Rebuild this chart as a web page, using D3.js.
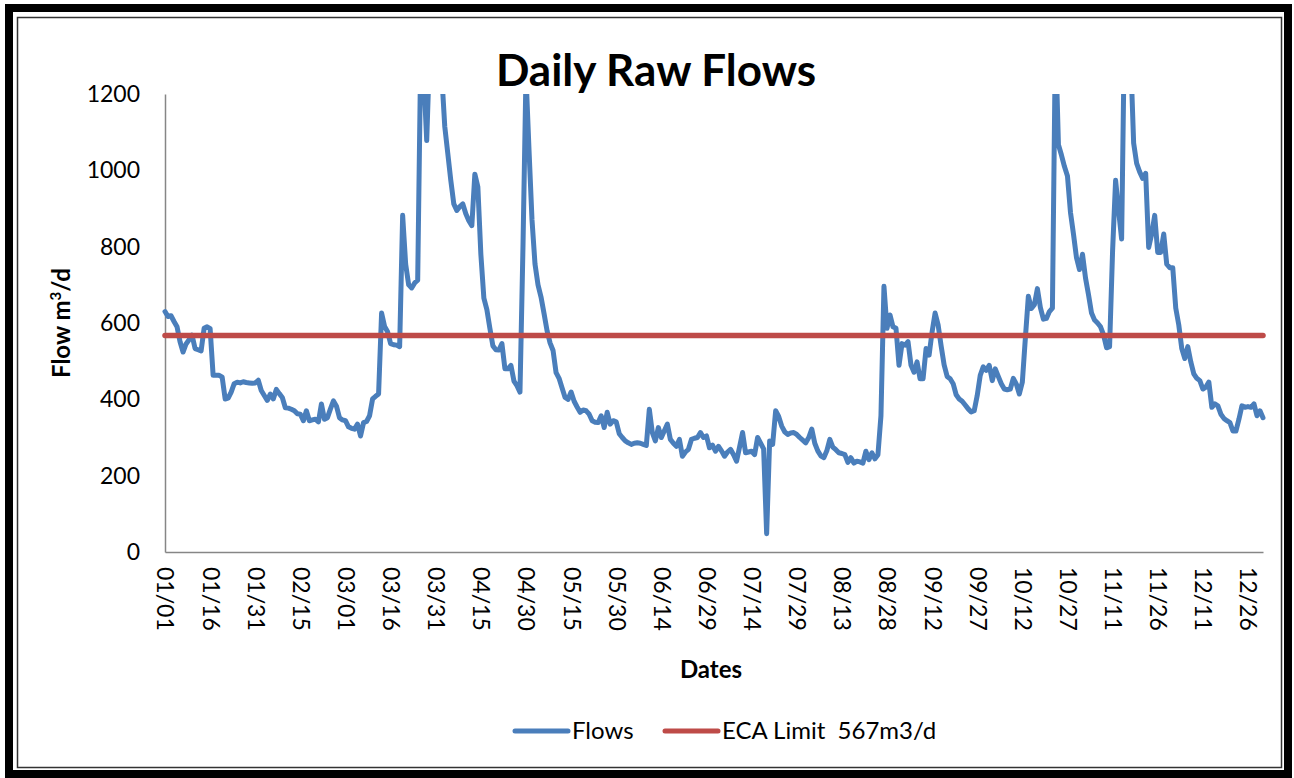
<!DOCTYPE html>
<html>
<head>
<meta charset="utf-8">
<script src="https://cdn.jsdelivr.net/npm/d3@7"></script>
<style>
body { margin: 0; background: #fff; }
svg text { font-family: Lato, "Open Sans", sans-serif; fill: #000; }
</style>
</head>
<body>
<svg id="chart" width="1294" height="778"></svg>
<script>
// daily raw flow, m3/d, one value per day of a leap year
var flows = [
    630, 617, 619, 604, 590, 551, 524, 545, 556, 568,
    533, 530, 527, 586, 590, 585, 463, 463, 463, 458,
    401, 403, 419, 441, 445, 443, 446, 444, 443, 442,
    443, 450, 423, 410, 397, 414, 401, 426, 415, 405,
    378, 377, 374, 370, 362, 361, 344, 370, 344, 346,
    348, 341, 388, 348, 352, 375, 396, 382, 352, 346,
    344, 328, 324, 322, 335, 304, 339, 342, 357, 401,
    408, 414, 626, 591, 577, 546, 543, 542, 538, 882,
    754, 700, 692, 705, 712, 1300, 1250, 1078, 1320, 1450,
    1500, 1400, 1250, 1115, 1045, 974, 912, 895, 905, 912,
    886, 868, 855, 990, 957, 780, 665, 635, 586, 540,
    530, 529, 546, 480, 480, 489, 448, 436, 419, 800,
    1250, 1054, 870, 754, 700, 668, 625, 580, 548, 528,
    470, 455, 430, 405, 400, 419, 395, 380, 366, 372,
    370, 361, 344, 340, 339, 357, 326, 366, 335, 344,
    341, 310, 300, 291, 286, 282, 285, 286, 285, 282,
    279, 374, 313, 291, 326, 300, 318, 335, 295, 285,
    277, 295, 251, 262, 269, 295, 298, 300, 313, 300,
    304, 273, 280, 264, 277, 265, 251, 262, 269, 255,
    238, 275, 313, 260, 262, 264, 255, 300, 285, 270,
    48, 291, 282, 370, 355, 330, 315, 308, 312, 313,
    308, 300, 293, 286, 300, 322, 285, 265, 252, 247,
    265, 295, 275, 268, 260, 258, 255, 235, 247, 233,
    238, 236, 233, 264, 242, 260, 244, 255, 357, 696,
    586, 621, 590, 586, 489, 546, 542, 551, 489, 471,
    498, 454, 454, 533, 516, 577, 626, 595, 540, 490,
    460, 454, 441, 412, 401, 395, 385, 375, 367, 370,
    410, 463, 485, 476, 489, 449, 480, 460, 441, 427,
    425, 427, 455, 440, 414, 445, 560, 670, 638, 648,
    690, 640, 610, 612, 630, 639, 1350, 1067, 1040, 1010,
    985, 890, 833, 771, 740, 780, 718, 674, 626, 608,
    600, 590, 569, 535, 538, 789, 974, 895, 820, 1400,
    1450, 1300, 1071, 1018, 996, 979, 992, 798, 833, 882,
    785, 785, 833, 754, 745, 745, 639, 595, 533, 507,
    538, 498, 467, 455, 449, 427, 432, 445, 379, 388,
    383, 361, 350, 344, 339, 317, 317, 348, 383, 379,
    381, 379, 388, 357, 370, 352
];
var firstDay = "2012-01-01";
var ecaLimit = 567;
var yTicks = [0, 200, 400, 600, 800, 1000, 1200];
var labelEvery = 15; // days between date labels
var seriesNames = ["Flows", "ECA Limit  567m3/d"];
var seriesColors = ["#4a7ebb", "#be4b48"];

var svg = d3.select("#chart");

var left = 165, right = 1263, top_y = 94, bottom_y = 552;

var start = d3.timeParse("%Y-%m-%d")(firstDay);
var dates = flows.map(function(v, i) { return d3.timeDay.offset(start, i); });

var x = d3.scaleTime()
    .domain([dates[0], dates[dates.length - 1]])
    .range([left, right]);

var y = d3.scaleLinear()
    .domain([0, 1200])
    .range([bottom_y, top_y]);

// frame
svg.append("rect")
    .attr("x", 9).attr("y", 8)
    .attr("width", 1279).attr("height", 766)
    .attr("fill", "none").attr("stroke", "#000").attr("stroke-width", 8);
svg.append("rect")
    .attr("x", 17.5).attr("y", 17.5)
    .attr("width", 1264).attr("height", 750)
    .attr("fill", "none").attr("stroke", "#333").attr("stroke-width", 1.5);

// title
svg.append("text")
    .attr("x", 656).attr("y", 86)
    .attr("text-anchor", "middle")
    .style("font-size", "44px").style("font-weight", "bold")
    .text("Daily Raw Flows");

// axes
var xAxis = d3.axisBottom(x)
    .tickValues(d3.range(0, dates.length, labelEvery).map(function(i) { return dates[i]; }))
    .tickFormat(d3.timeFormat("%m/%d"))
    .tickSize(0);

var gx = svg.append("g")
    .attr("transform", "translate(0," + bottom_y + ")")
    .call(xAxis);
gx.select(".domain").attr("stroke", "#868686").attr("stroke-width", 1.5);
gx.selectAll("text")
    .attr("transform", "rotate(90)")
    .attr("text-anchor", "start")
    .attr("x", 15).attr("y", 0).attr("dy", "0.35em")
    .style("font-size", "23px").style("font-family", "Lato");

var yAxis = d3.axisLeft(y).tickValues(yTicks).tickFormat(d3.format("d"))
    .tickSize(0).tickPadding(25);
var gy = svg.append("g")
    .attr("transform", "translate(" + left + ",0)")
    .call(yAxis);
gy.select(".domain").attr("stroke", "#868686").attr("stroke-width", 1.5);
gy.selectAll("text")
    .style("font-size", "23px").style("font-family", "Lato");

// axis titles
svg.append("text")
    .attr("transform", "translate(70,323) rotate(-90)")
    .attr("text-anchor", "middle")
    .style("font-size", "24px").style("font-weight", "bold")
    .html("Flow m<tspan baseline-shift='super' style='font-size:15px'>3</tspan>/d");

svg.append("text")
    .attr("x", (left + right) / 2 - 3).attr("y", 678)
    .attr("text-anchor", "middle")
    .style("font-size", "24px").style("font-weight", "bold")
    .text("Dates");

// clip the line to the plot area, values above 1200 run off the top
svg.append("clipPath").attr("id", "plot-clip")
    .append("rect")
    .attr("x", left - 5).attr("y", top_y)
    .attr("width", right - left + 10).attr("height", bottom_y - top_y + 5);

var line = d3.line()
    .x(function(d, i) { return x(dates[i]); })
    .y(function(d) { return y(d); });

svg.append("path")
    .datum(flows)
    .attr("clip-path", "url(#plot-clip)")
    .attr("fill", "none")
    .attr("stroke", seriesColors[0])
    .attr("stroke-width", 5)
    .attr("stroke-linejoin", "round")
    .attr("stroke-linecap", "round")
    .attr("d", line);

svg.append("path")
    .datum([dates[0], dates[dates.length - 1]])
    .attr("fill", "none")
    .attr("stroke", seriesColors[1])
    .attr("stroke-width", 5.5)
    .attr("stroke-linecap", "round")
    .attr("d", d3.line()
        .x(function(d) { return x(d); })
        .y(function() { return y(ecaLimit); }));

// legend
var legendX = [515, 665];
var legend = svg.append("g").selectAll("g")
    .data(seriesNames)
    .enter().append("g")
    .attr("transform", function(d, i) { return "translate(" + legendX[i] + ",731)"; });

legend.append("line")
    .attr("x1", 0).attr("x2", 53)
    .attr("stroke", function(d, i) { return seriesColors[i]; })
    .attr("stroke-width", 5)
    .attr("stroke-linecap", "round");

legend.append("text")
    .attr("x", 57).attr("y", 0).attr("dy", "0.35em")
    .style("font-size", "24px")
    .style("white-space", "pre")
    .attr("xml:space", "preserve")
    .text(function(d) { return d; });
</script>
</body>
</html>
